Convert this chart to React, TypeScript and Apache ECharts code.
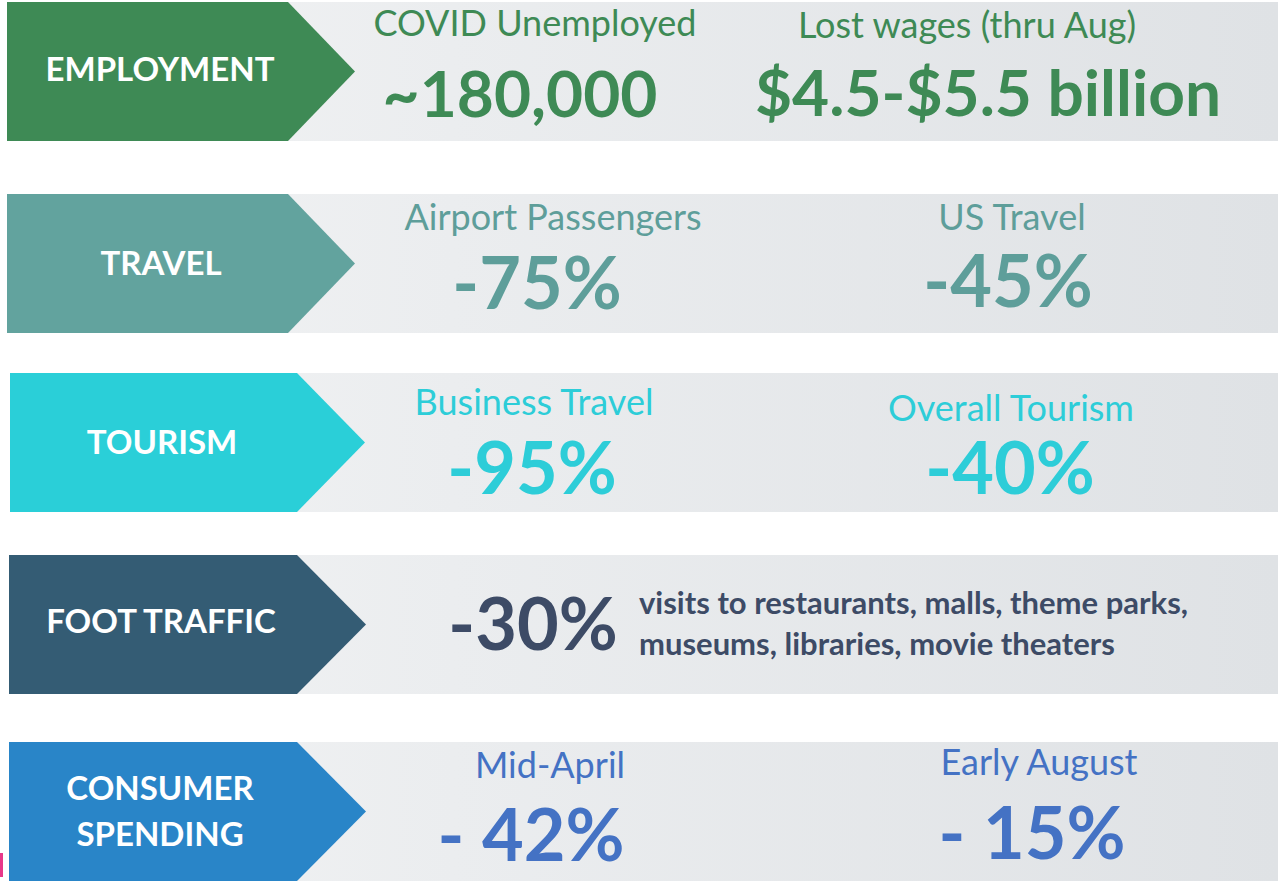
import React, { useEffect, useRef } from "react";
import * as echarts from "echarts";

// ---- data ----
const categories = ["EMPLOYMENT", "TRAVEL", "TOURISM", "FOOT TRAFFIC", "CONSUMER\nSPENDING"];
const categoryColors = ["#3e8a55", "#62a39e", "#2acfd8", "#345c74", "#2985c8"];
const textColors = ["#3e8a55", "#5e9e9a", "#2dcdd8", "#3d4b66", "#4472c4"];
const leftLabels = ["COVID Unemployed", "Airport Passengers", "Business Travel", "", "Mid-April"];
const leftValues = ["~180,000", "-75%", "-95%", "-30%", "- 42%"];
const rightLabels = ["Lost wages (thru Aug)", "US Travel", "Overall Tourism", "", "Early August"];
const rightValues = ["$4.5-$5.5 billion", "-45%", "-40%", "", "- 15%"];
const footTrafficNote = "visits to restaurants, malls, theme parks,\nmuseums, libraries, movie theaters";

// ---- layout ----
const rowTops = [2, 194, 373, 555, 742];
const rowH = 139;
const arrowLeft = [7, 7, 10, 9, 9];
const arrowBodyRight = [288, 288, 297, 297, 297];
const arrowTip = [355, 355, 365, 366, 366];
const leftLabelPos = [[535, 22], [553, 216], [534, 401], [0, 0], [550, 764]];
const leftValuePos = [[520, 92], [537, 281], [532, 466], [533, 622], [531, 833]];
const rightLabelPos = [[967, 24], [1012, 216], [1011, 407], [0, 0], [1039, 761]];
const rightValuePos = [[988, 91], [1008, 279], [1010, 466], [0, 0], [1032, 831]];
const catLabelPos = [[160, 68], [161, 262], [162, 441], [161, 620], [160, 810]];

const FONT = "Lato, 'Open Sans', sans-serif";

export default function App() {
  const ref = useRef<HTMLDivElement>(null);
  useEffect(() => {
    document.body.style.margin = "0";
    const chart = echarts.init(ref.current!, null, { renderer: "svg" });
    const elements: any[] = [];
    categories.forEach((cat, i) => {
      const top = rowTops[i];
      elements.push({
        type: "rect",
        shape: { x: arrowLeft[i], y: top, width: 1278 - arrowLeft[i], height: rowH },
        style: {
          fill: new echarts.graphic.LinearGradient(0, 0, 1, 0, [
            { offset: 0, color: "#f3f4f5" },
            { offset: 0.35, color: "#ebedef" },
            { offset: 1, color: "#dfe2e5" },
          ]),
        },
        z: 1,
      });
      elements.push({
        type: "polygon",
        shape: {
          points: [
            [arrowLeft[i], top],
            [arrowBodyRight[i], top],
            [arrowTip[i], top + rowH / 2],
            [arrowBodyRight[i], top + rowH],
            [arrowLeft[i], top + rowH],
          ],
        },
        style: { fill: categoryColors[i] },
        z: 2,
      });
      elements.push({
        type: "text",
        x: catLabelPos[i][0],
        y: catLabelPos[i][1],
        style: {
          text: cat,
          fill: "#ffffff",
          font: `bold 33px ${FONT}`,
          align: "center",
          verticalAlign: "middle",
          lineHeight: 46,
        },
        z: 3,
      });
      if (leftLabels[i]) {
        elements.push({
          type: "text",
          x: leftLabelPos[i][0],
          y: leftLabelPos[i][1],
          style: { text: leftLabels[i], fill: textColors[i], font: `36px ${FONT}`, align: "center", verticalAlign: "middle" },
          z: 3,
        });
      }
      if (leftValues[i]) {
        elements.push({
          type: "text",
          x: leftValuePos[i][0],
          y: leftValuePos[i][1],
          style: {
            text: leftValues[i],
            fill: textColors[i],
            font: `bold ${i === 0 ? 64 : 72}px ${FONT}`,
            align: "center",
            verticalAlign: "middle",
          },
          z: 3,
        });
      }
      if (rightLabels[i]) {
        elements.push({
          type: "text",
          x: rightLabelPos[i][0],
          y: rightLabelPos[i][1],
          style: { text: rightLabels[i], fill: textColors[i], font: `36px ${FONT}`, align: "center", verticalAlign: "middle" },
          z: 3,
        });
      }
      if (rightValues[i]) {
        elements.push({
          type: "text",
          x: rightValuePos[i][0],
          y: rightValuePos[i][1],
          style: {
            text: rightValues[i],
            fill: textColors[i],
            font: `bold ${i === 0 ? 64 : 72}px ${FONT}`,
            align: "center",
            verticalAlign: "middle",
          },
          z: 3,
        });
      }
    });
    elements.push({
      type: "text",
      x: 639,
      y: 622,
      style: {
        text: footTrafficNote,
        fill: textColors[3],
        font: `bold 31px ${FONT}`,
        align: "left",
        verticalAlign: "middle",
        lineHeight: 41,
      },
      z: 3,
    });
    elements.push({
      type: "rect",
      shape: { x: 0, y: 853, width: 3, height: 24 },
      style: { fill: "#e8388a" },
      z: 3,
    });
    chart.setOption({
      animation: false,
      backgroundColor: "#ffffff",
      graphic: { elements },
    });
    return () => chart.dispose();
  }, []);
  return <div ref={ref} style={{ width: 1278, height: 882 }} />;
}
